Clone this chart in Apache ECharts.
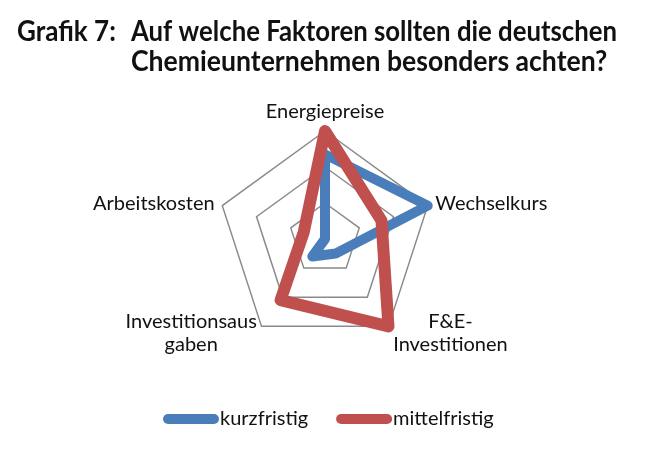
<!DOCTYPE html>
<html>
<head>
<meta charset="utf-8">
<script src="https://cdn.jsdelivr.net/npm/echarts@6/dist/echarts.min.js"></script>
<style>
html,body{margin:0;padding:0;background:#fff;}
#chart{width:664px;height:452px;}
</style>
</head>
<body>
<div id="chart"></div>
<script>
// Indicators in counterclockwise order starting at the top
const categories = ['Energiepreise', 'Arbeitskosten', 'Investitionsaus\ngaben', 'F&E-\nInvestitionen', 'Wechselkurs'];
const scaleMax = 3;
const seriesNames = ['kurzfristig', 'mittelfristig'];
const kurzfristig = [2.35, 0, 0.6, 0.5, 3];
const mittelfristig = [3, 0.62, 2.1, 3, 1.65];
const titleLabel = 'Grafik 7:';
const titleLines = ['Auf welche Faktoren sollten die deutschen', 'Chemieunternehmen besonders achten?'];

const chart = echarts.init(document.getElementById('chart'), null, {renderer: 'canvas'});
const FONT = 'Lato';
const titleFont = 'bold 28px Lato';
function titleText(txt, x, y, sx) {
  return {
    type: 'text', x: x, y: y, scaleX: sx, scaleY: 1,
    style: {text: txt, font: titleFont, fill: '#111',
            textAlign: 'left', textVerticalAlign: 'middle', align: 'left', verticalAlign: 'middle'}
  };
}
chart.setOption({
  animation: false,
  backgroundColor: '#ffffff',
  graphic: [
    titleText(titleLabel, 17, 32, 0.93),
    titleText(titleLines[0], 131, 32, 0.92),
    titleText(titleLines[1], 131, 62, 0.95)
  ],
  legend: {
    data: seriesNames,
    top: 404,
    left: 158,
    itemWidth: 56,
    itemHeight: 10,
    itemGap: 28,
    icon: 'path://M5,0 H51 A5,5 0 0 1 51,10 H5 A5,5 0 0 1 5,0 Z',
    textStyle: {fontFamily: FONT, fontSize: 20, color: '#111', padding: [0, 0, 0, -4]}
  },
  radar: {
    center: [325, 239],
    radius: 108,
    startAngle: 90,
    splitNumber: 3,
    shape: 'polygon',
    indicator: categories.map(n => ({name: n, max: scaleMax, min: 0})),
    axisName: {
      fontFamily: FONT,
      fontSize: 20,
      color: '#111',
      formatter: v => v.split('\n').map(s => '{c|' + s + '}').join('\n'),
      rich: {c: {align: 'center', fontFamily: FONT, fontSize: 20, color: '#111', lineHeight: 23}}
    },
    nameGap: 8,
    axisLine: {show: false},
    axisTick: {show: false},
    axisLabel: {show: false},
    splitArea: {show: false},
    splitLine: {lineStyle: {color: '#8a8a8a', width: 1.5}}
  },
  series: [
    {
      name: seriesNames[0],
      type: 'radar',
      symbol: 'none',
      color: '#4a7ebb',
      lineStyle: {color: '#4a7ebb', width: 10, join: 'round', cap: 'round'},
      data: [{value: kurzfristig, name: seriesNames[0]}]
    },
    {
      name: seriesNames[1],
      type: 'radar',
      symbol: 'none',
      color: '#c0504d',
      lineStyle: {color: '#c0504d', width: 12, join: 'round', cap: 'round'},
      data: [{value: mittelfristig, name: seriesNames[1]}]
    }
  ]
});
</script>
</body>
</html>
